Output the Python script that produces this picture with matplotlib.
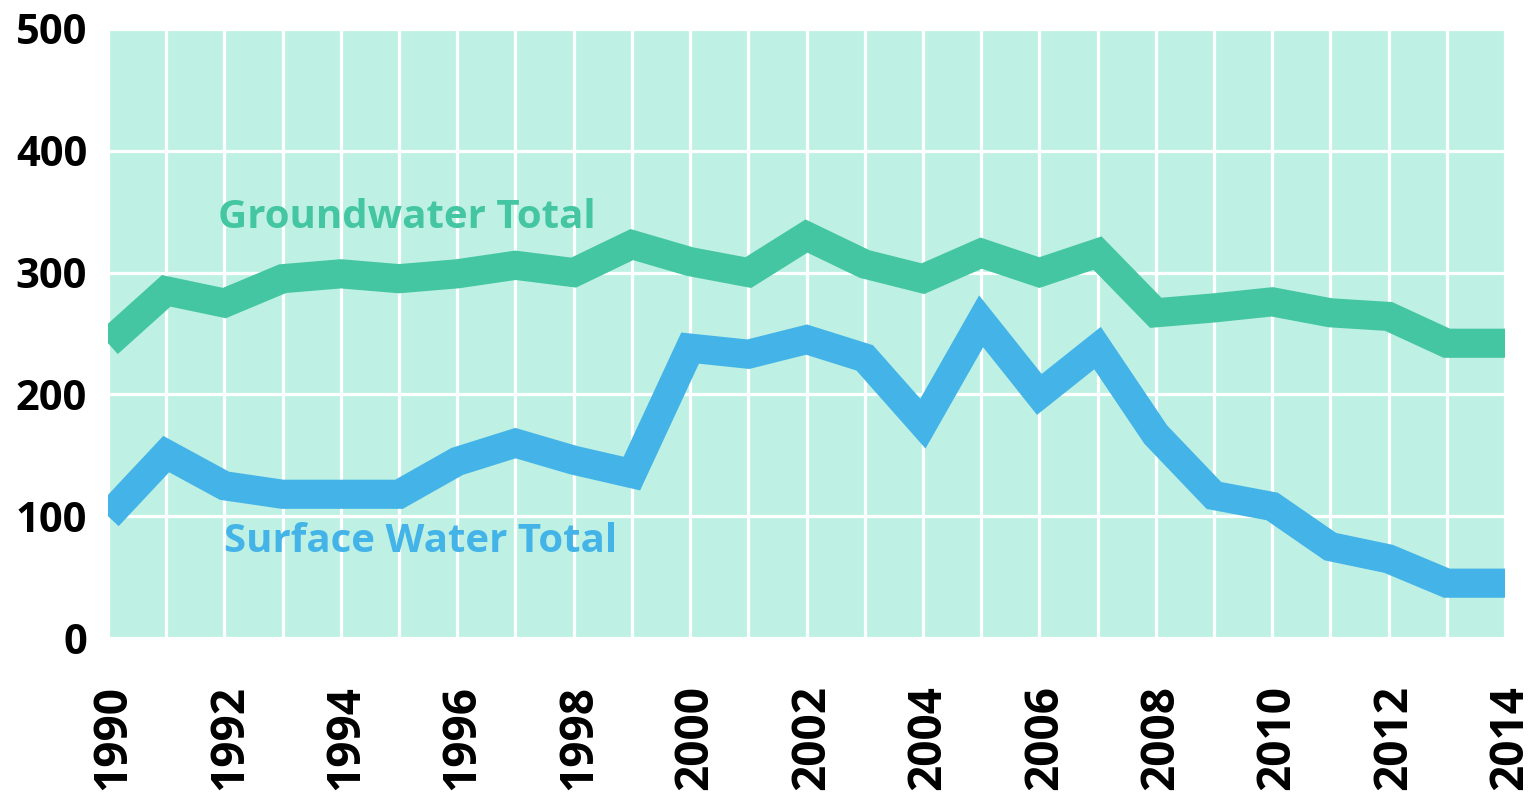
import matplotlib
matplotlib.use("Agg")
import matplotlib.pyplot as plt
import matplotlib.transforms as mtransforms

years = list(range(1990, 2015))
groundwater = [242, 285, 275, 295, 299, 295, 299, 306, 300, 323, 309, 300, 330,
               307, 295, 316, 300, 316, 267, 271, 276, 267, 264, 242, 242]
surface = [100, 151, 125, 118, 118, 118, 145, 160, 146, 135, 238, 233, 245,
           230, 176, 260, 200, 238, 167, 117, 108, 75, 65, 45, 45]
xtick_labels = [str(y) for y in range(1990, 2015, 2)]
yticks = [0, 100, 200, 300, 400, 500]
gw_label = "Groundwater Total"
sw_label = "Surface Water Total"

GW_COLOR = "#45C6A3"
SW_COLOR = "#44B4E8"
BG = "#BEF1E3"

fig = plt.figure(figsize=(15.33, 7.96), dpi=100)
ax = fig.add_axes([108/1533, 1 - 638/796, (1505-108)/1533, (638-29)/796])
ax.set_facecolor(BG)
for s in ax.spines.values():
    s.set_visible(False)

ax.set_xlim(1990, 2014)
ax.set_ylim(0, 500)
ax.set_xticks(list(range(1990, 2015, 2)))
ax.set_xticklabels(xtick_labels, rotation=90, fontfamily="Open Sans",
                   fontweight="bold", fontsize=33)
ax.set_xticks(years, minor=True)
ax.set_yticks(yticks)
ax.set_yticklabels([str(v) for v in yticks], fontfamily="Open Sans",
                   fontweight="bold", fontsize=30)
ax.tick_params(axis="x", which="both", length=0, pad=34)
ax.tick_params(axis="y", length=0, pad=15)
ax.grid(True, which="both", axis="x", color="white", linewidth=2.3, zorder=1)
ax.grid(True, which="major", axis="y", color="white", linewidth=2.3, zorder=1)
ax.set_axisbelow(True)

offset = mtransforms.ScaledTranslation(5/100, 0, fig.dpi_scale_trans)
for lbl in ax.get_xticklabels():
    lbl.set_transform(lbl.get_transform() + offset)

ax.plot(years, groundwater, color=GW_COLOR, linewidth=21,
        solid_joinstyle="miter", solid_capstyle="butt", zorder=3)
ax.plot(years, surface, color=SW_COLOR, linewidth=21,
        solid_joinstyle="miter", solid_capstyle="butt", zorder=3)

ax.text(1991.89, 345, gw_label, color=GW_COLOR, fontfamily="Open Sans",
        fontweight="bold", fontsize=29, va="center", ha="left", zorder=4)
ax.text(1991.99, 79, sw_label, color=SW_COLOR, fontfamily="Open Sans",
        fontweight="bold", fontsize=29, va="center", ha="left", zorder=4)

fig.savefig("out.png", dpi=100)
